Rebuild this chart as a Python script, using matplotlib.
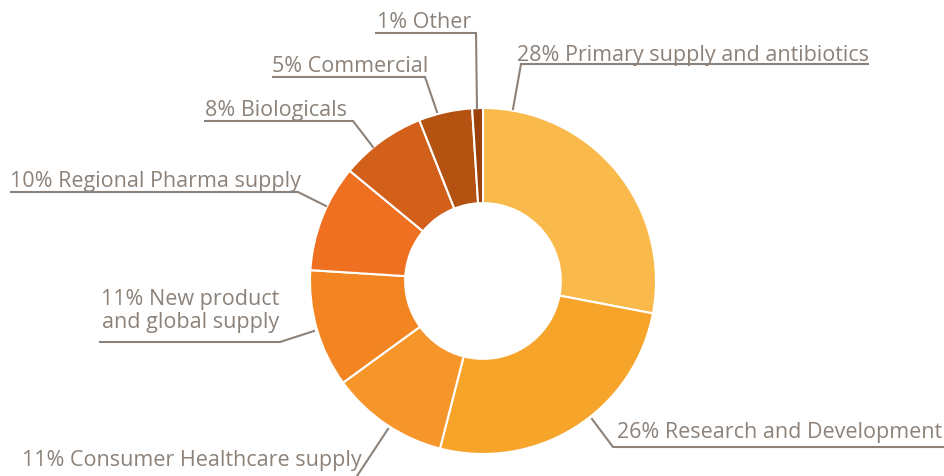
import matplotlib.pyplot as plt

# Share of spend by area (clockwise from 12 o'clock)
labels = [
    "28% Primary supply and antibiotics",
    "26% Research and Development",
    "11% Consumer Healthcare supply",
    "11% New product\nand global supply",
    "10% Regional Pharma supply",
    "8% Biologicals",
    "5% Commercial",
    "1% Other",
]
values = [28, 26, 11, 11, 10, 8, 5, 1]
colors = ["#f9b94b", "#f7a52a", "#f6952a", "#f28522", "#f07022",
          "#d3601a", "#b45211", "#9c4009"]

# label layout in pixel space: text anchor, alignment, leader path
layout = [
    dict(xy=(517, 61), ha="left", path=[(868, 65), (521, 65), (513, 110)]),
    dict(xy=(617, 438), ha="left", path=[(944, 448), (613, 448), (592, 420)]),
    dict(xy=(22, 466), ha="left", path=[(354, 482), (357, 477), (388, 430)]),
    dict(xy=(279, 328), ha="right", path=[(100, 343), (280, 343), (314, 332)]),
    dict(xy=(10, 187), ha="left", path=[(11, 193), (298, 193), (326, 207)]),
    dict(xy=(205, 116), ha="left", path=[(205, 122), (353, 122), (373, 148)]),
    dict(xy=(272, 72), ha="left", path=[(273, 78), (425, 78), (437, 113)]),
    dict(xy=(377, 28), ha="left", path=[(376, 34), (476, 34), (477, 110)]),
]

text_color = "#8c8279"
plt.rcParams["font.family"] = ["Open Sans", "DejaVu Sans"]

fig = plt.figure(figsize=(9.44, 4.77), dpi=100)
ax = fig.add_axes([0, 0, 1, 1])

# y axis is inverted (pixel coordinates), so the pie runs "counterclockwise"
# in data space to look clockwise on screen, starting at the top (-90)
ax.pie(values, colors=colors, center=(483, 282), radius=173,
       startangle=-90, counterclock=True,
       wedgeprops=dict(width=173 * 0.55, edgecolor="white", linewidth=1.5))

for lab, lay in zip(labels, layout):
    xs, ys = zip(*lay["path"])
    ax.plot(xs, ys, color=text_color, lw=1.5, solid_joinstyle="miter")
    ax.text(lay["xy"][0], lay["xy"][1], lab, ha=lay["ha"], va="baseline",
            fontsize=15.5, color=text_color, linespacing=1.15,
            multialignment="right" if lay["ha"] == "right" else "left")

ax.set_xlim(0, 944)
ax.set_ylim(477, 0)
ax.set_aspect("equal")
ax.set_axis_off()

fig.savefig("out.png", dpi=100)
